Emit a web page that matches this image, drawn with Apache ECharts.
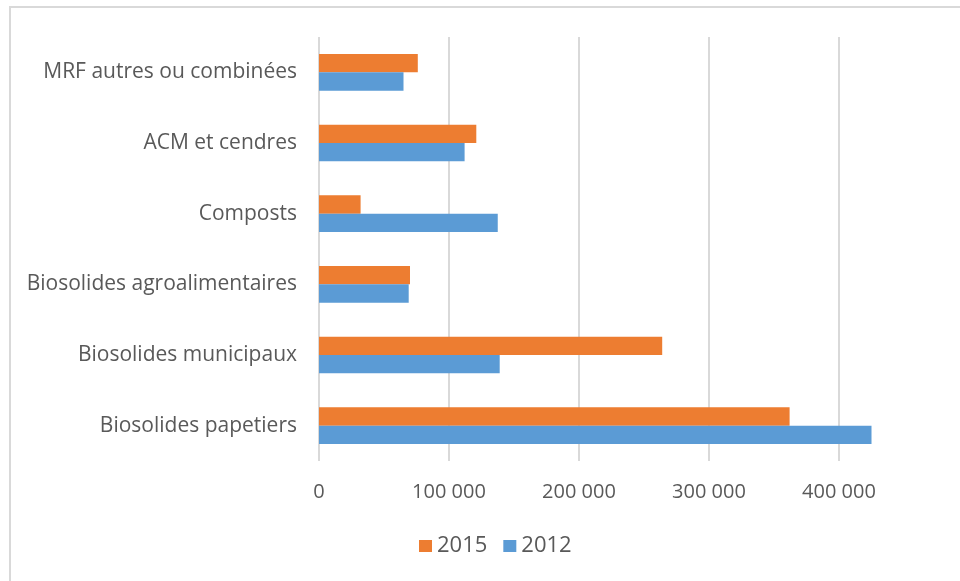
<!DOCTYPE html>
<html>
<head>
<meta charset="utf-8">
<script src="https://cdn.jsdelivr.net/npm/echarts@6/dist/echarts.min.js"></script>
<style>
  html, body { margin: 0; padding: 0; background: #fff; }
  #chart { width: 960px; height: 581px; }
</style>
</head>
<body>
<div id="chart"></div>
<script>
// categories listed bottom to top
const categories = [
  'Biosolides papetiers',
  'Biosolides municipaux',
  'Biosolides agroalimentaires',
  'Composts',
  'ACM et cendres',
  'MRF autres ou combinées'
];
const values2015 = [362000, 264000, 70000, 32000, 121000, 76000];
const values2012 = [425000, 139000, 69000, 137500, 112000, 65000];
const xTicks = [0, 100000, 200000, 300000, 400000, 500000];

const textColor = '#595959';
const fontFamily = 'Open Sans, Liberation Sans, sans-serif';

const fmt = (v) => String(v).replace(/\B(?=(\d{3})+(?!\d))/g, ' ');

const chart = echarts.init(document.getElementById('chart'));
chart.setOption({
  animation: false,
  textStyle: { fontFamily },
  graphic: [{
    type: 'rect',
    shape: { x: 10, y: 7, width: 1000, height: 1000 },
    style: { fill: 'none', stroke: '#d9d9d9', lineWidth: 2 },
    silent: true
  }],
  // plot runs past the right edge, like the cropped original
  grid: { left: 319, top: 37, height: 424, width: 650, containLabel: false, outerBoundsMode: 'none' },
  legend: {
    data: ['2015', '2012'],
    left: 419,
    top: 535,
    padding: 0,
    itemWidth: 13,
    itemHeight: 12,
    itemGap: 16,
    itemTextGap: 3,
    icon: 'rect',
    textStyle: { color: textColor, fontSize: 22, fontFamily }
  },
  xAxis: {
    type: 'value',
    min: xTicks[0],
    max: xTicks[xTicks.length - 1],
    interval: 100000,
    axisLine: { show: false },
    axisTick: { show: false },
    axisLabel: { color: textColor, fontSize: 20, margin: 21, formatter: fmt, showMaxLabel: false },
    splitLine: { lineStyle: { color: '#d9d9d9', width: 2 } }
  },
  yAxis: {
    type: 'category',
    data: categories,
    axisLine: { show: false },
    axisTick: { show: false },
    axisLabel: { color: textColor, fontSize: 21, margin: 22 }
  },
  series: [
    {
      name: '2015',
      type: 'bar',
      data: values2015,
      barGap: '0%',
      barCategoryGap: '48%',
      itemStyle: { color: '#ed7d31' }
    },
    {
      name: '2012',
      type: 'bar',
      data: values2012,
      barGap: '0%',
      barCategoryGap: '48%',
      itemStyle: { color: '#5b9bd5' }
    }
  ]
});
</script>
</body>
</html>
